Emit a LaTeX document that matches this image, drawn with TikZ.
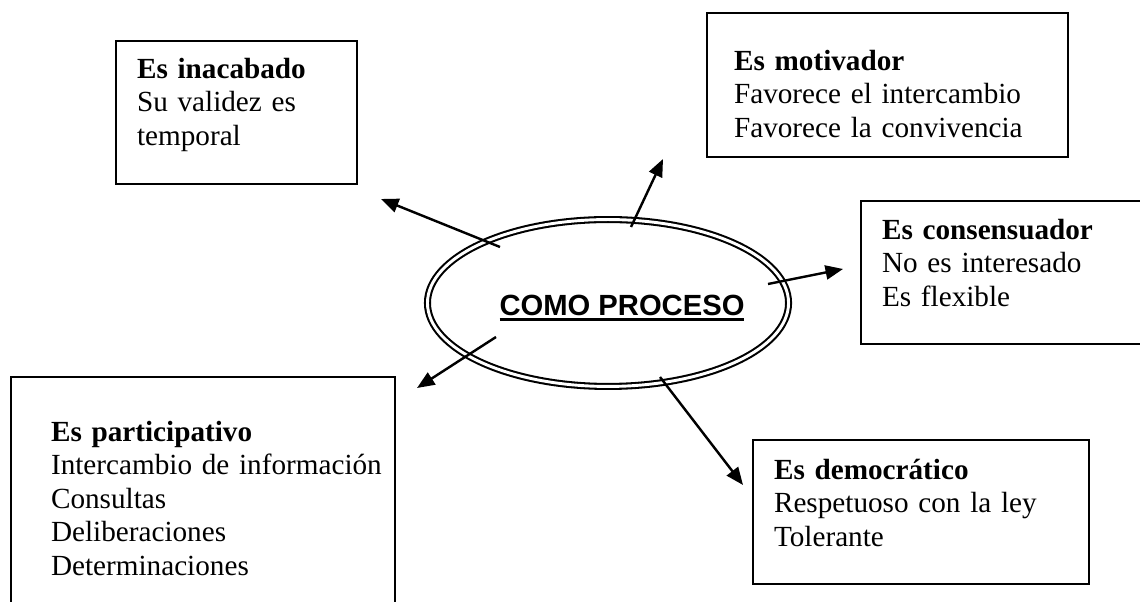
\documentclass[tikz,border=0pt]{standalone}
\usepackage{fontspec}
\setmainfont{Liberation Serif}
\newfontfamily\arial{Liberation Sans}
\usepackage{tikz}
\usetikzlibrary{shapes.geometric,arrows.meta}

\newcommand{\subrayado}[1]{\setbox0=\hbox{#1}\rlap{\rule[-2.3pt]{\wd0}{1.2pt}}\box0}

\begin{document}
\begin{tikzpicture}[
		x=0.411pt, y=-0.411pt,
		caja/.style={draw, line width=.85pt, anchor=north west, inner sep=0pt,
			font=\fontsize{12pt}{13.8pt}\selectfont},
		sangria/.style={execute at begin node={\leftskip=#1\relax}},
		flecha/.style={line width=1pt, -{Triangle[length=7.2pt,width=5.8pt]}}
		]
		\clip (0,0) rectangle (1140,602);
		
		% centro
		\node[ellipse, draw, double, double distance=1.2pt, line width=.85pt,
			minimum width=148.4pt, minimum height=68.6pt, inner sep=0pt,
			text height=9.9pt, text depth=0pt,
			font=\arial\bfseries\fontsize{12pt}{14pt}\selectfont] (proceso) at (608,303)
			{\makebox[0pt]{\hspace{11.5pt}\subrayado{COMO PROCESO}}};
		
		% cajas
		\node[caja, text width=99.05pt, text height=15.21pt, text depth=43.57pt, sangria=8.63pt]
			(inacabado) at (115,40)
			{\textbf{Es inacabado}\\ \makebox[80.97pt][s]{Su validez es}\\ temporal};
		\node[caja, text width=148.37pt, text height=23.43pt, text depth=35.76pt, sangria=11.1pt]
			(motivador) at (706,12)
			{\textbf{Es motivador}\\ Favorece el intercambio\\ Favorece la convivencia};
		\node[caja, text width=131.52pt, text height=15.62pt, text depth=43.16pt, sangria=8.63pt]
			(consensuador) at (860,200)
			{\textbf{Es consensuador}\\ No es interesado\\ Es flexible};
		\node[caja, text width=157.82pt, text height=26.3pt, text depth=102.75pt, sangria=16.44pt]
			(participativo) at (10,376)
			{\textbf{Es participativo}\\ Intercambio de información\\ Consultas\\ Deliberaciones\\ Determinaciones};
		\node[caja, text width=138.1pt, text height=16.03pt, text depth=43.16pt, sangria=8.63pt]
			(democratico) at (752,439)
			{\textbf{Es democrático}\\ Respetuoso con la ley\\ Tolerante};
		
		% flechas
		\coordinate (sale-inacabado) at (500,247);
		\coordinate (llega-inacabado) at (381,199);
		\coordinate (sale-motivador) at (631,227);
		\coordinate (llega-motivador) at (663,159);
		\coordinate (sale-consensuador) at (768,284);
		\coordinate (llega-consensuador) at (843,269);
		\coordinate (sale-participativo) at (496,337);
		\coordinate (llega-participativo) at (417,388);
		\coordinate (sale-democratico) at (660,377);
		\coordinate (llega-democratico) at (743,485);
		
		\draw[flecha] (sale-inacabado) -- (llega-inacabado);
		\draw[flecha] (sale-motivador) -- (llega-motivador);
		\draw[flecha] (sale-consensuador) -- (llega-consensuador);
		\draw[flecha] (sale-participativo) -- (llega-participativo);
		\draw[flecha] (sale-democratico) -- (llega-democratico);
	\end{tikzpicture}
\end{document}
